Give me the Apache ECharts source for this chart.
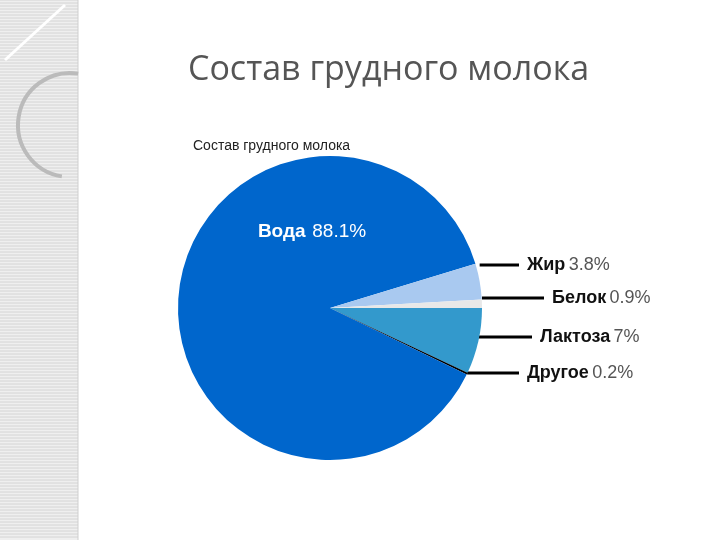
<!DOCTYPE html>
<html><head><meta charset="utf-8">
<script src="https://cdn.jsdelivr.net/npm/echarts@6/dist/echarts.min.js"></script>
<style>html,body{margin:0;background:#fff}#main{width:720px;height:540px}</style>
</head><body><div id="main"></div>
<script>
// данные диаграммы
var names = ['Лактоза', 'Другое', 'Вода', 'Жир', 'Белок'];
var values = [7.0, 0.2, 88.1, 3.8, 0.9];
var colors = ['#3399cc', '#000000', '#0066cc', '#a9c9f0', '#e8e8e8'];
var labelY = [337, 373, 232, 265, 298];

var myChart = echarts.init(document.getElementById('main'));

var data = [];
for (var i = 0; i < names.length; i++) {
    data.push({
        name: names[i],
        value: values[i],
        itemStyle: { color: colors[i] },
        label: names[i] === 'Вода' ? {
            position: 'inside',
            formatter: '{w|{b}}  {v|{c}%}',
            rich: {
                w: { color: '#fff', fontWeight: 'bold', fontSize: 19, fontFamily: 'Liberation Sans' },
                v: { color: '#fff', fontSize: 19, fontFamily: 'Liberation Sans' }
            }
        } : undefined,
        labelLine: names[i] === 'Вода' ? { show: false } : undefined
    });
}

var stripes = [];
for (var y = 0; y < 540; y += 3) {
    stripes.push({ type: 'line', shape: { x1: 0, y1: y, x2: 78, y2: y }, style: { stroke: '#d4d4d4', lineWidth: 1 } });
}

var option = {
    backgroundColor: '#fff',
    title: [
        { text: 'Состав грудного молока', left: 183, top: 48,
          textStyle: { fontSize: 34, fontWeight: 'normal', color: '#555', fontFamily: 'Open Sans' } },
        { text: 'Состав грудного молока', left: 188, top: 134,
          textStyle: { fontSize: 14, fontWeight: 'normal', color: '#222', fontFamily: 'Liberation Sans' } }
    ],
    graphic: [
        { type: 'rect', shape: { x: 0, y: 0, width: 78, height: 540 }, style: { fill: '#efefef' } },
        { type: 'group', children: stripes },
        { type: 'line', shape: { x1: 78, y1: 0, x2: 78, y2: 540 }, style: { stroke: '#cfcfcf', lineWidth: 1 } },
        { type: 'arc', shape: { cx: 70, cy: 125, r: 52, startAngle: Math.PI * 0.55, endAngle: Math.PI * 1.55 },
          style: { stroke: '#bbb', lineWidth: 4, fill: null } },
        { type: 'line', shape: { x1: 5, y1: 60, x2: 65, y2: 5 }, style: { stroke: '#fff', lineWidth: 3 } }
    ],
    series: [{
        type: 'pie',
        center: [330, 308],
        radius: 152,
        startAngle: 0,
        clockwise: true,
        animation: false,
        data: data,
        label: {
            formatter: '{n|{b}} {v|{c}%}',
            rich: {
                n: { color: '#111', fontWeight: 'bold', fontSize: 18, fontFamily: 'Liberation Sans' },
                v: { color: '#555', fontSize: 18, fontFamily: 'Liberation Sans' }
            }
        },
        labelLine: { show: true, lineStyle: { color: '#000', width: 3 } },
        labelLayout: function (p) {
            var i = p.dataIndex;
            if (names[i] === 'Вода') {
                return { x: 312, y: labelY[i], align: 'center', verticalAlign: 'middle' };
            }
            var ex = p.labelLinePoints ? p.labelLinePoints[0][0] : 470;
            var lx = names[i] === 'Белок' || names[i] === 'Лактоза' ? 540 : 527;
            if (names[i] === 'Белок') lx = 552;
            return {
                x: lx, y: labelY[i], align: 'left', verticalAlign: 'middle',
                labelLinePoints: [[ex, labelY[i]], [ex, labelY[i]], [lx - 8, labelY[i]]]
            };
        }
    }]
};

myChart.setOption(option);
</script>
</body></html>
